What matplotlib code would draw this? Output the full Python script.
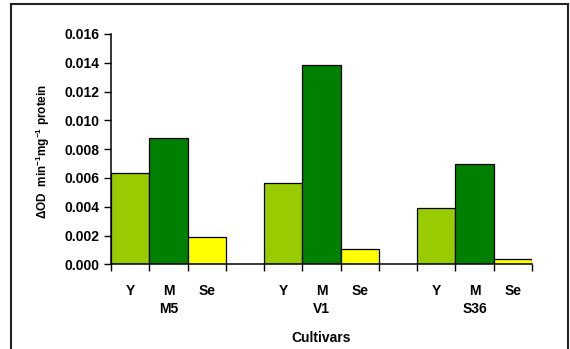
import matplotlib.pyplot as plt
import matplotlib as mpl
from matplotlib.patches import Rectangle
import numpy as np

mpl.rcParams['font.family'] = ['Liberation Sans', 'DejaVu Sans']
mpl.rcParams['font.size'] = 10
mpl.rcParams['font.weight'] = 'bold'
mpl.rcParams['mathtext.fontset'] = 'custom'
mpl.rcParams['mathtext.rm'] = 'Liberation Sans:bold'
mpl.rcParams['mathtext.bf'] = 'Liberation Sans:bold'
mpl.rcParams['mathtext.default'] = 'bf'

cultivars = ['M5', 'V1', 'S36']
parts = ['Y', 'M', 'Se']
colores = ['#99CC00', '#008000', '#FFFF00']

val_Y = [0.00635, 0.00568, 0.00392]
val_M = [0.00879, 0.01386, 0.00698]
val_Se = [0.00192, 0.00109, 0.00039]

fig = plt.figure(figsize=(5.7, 3.49), dpi=100)
ax = fig.add_axes([0.1947, 0.2427, 0.9333 - 0.1947, 0.9026 - 0.2427])

# marco exterior
fig.patches.append(Rectangle((11 / 570, -0.05), 557 / 570, 1.05 - 4 / 349,
                             transform=fig.transFigure, fill=False,
                             edgecolor='#222222', lw=1.5))

datos = [val_Y, val_M, val_Se]
centros = []
for g in range(len(cultivars)):
    for p in range(len(parts)):
        x = g * 4 + p
        centros.append(x)
        ax.bar(x, datos[p][g], width=1.0, color=colores[p],
               edgecolor='black', linewidth=0.9)

ax.set_xlim(-0.5, 10.5)
ax.set_ylim(0, 0.016)
ax.set_yticks(np.arange(0, 0.0161, 0.002))
ax.set_yticklabels(['%.3f' % v for v in np.arange(0, 0.0161, 0.002)])

ax.set_xticks(centros)
ax.set_xticklabels(parts * len(cultivars))
ax.set_xticks(np.arange(-0.5, 10.6, 1), minor=True)
ax.tick_params(axis='x', which='major', length=0, pad=14)
ax.tick_params(axis='x', which='minor', length=5, width=1)
ax.tick_params(axis='y', length=5, width=1, pad=3)

for s in ['top', 'right']:
    ax.spines[s].set_visible(False)
for s in ['left', 'bottom']:
    ax.spines[s].set_linewidth(1.1)

for g, c in enumerate(cultivars):
    ax.text(g * 4 + 1, -0.0031, c, ha='center', va='center', fontweight='bold')

ax.text(5, -0.0051, 'Cultivars', ha='center', va='center', fontweight='bold')

fig.text(43 / 570, 0.5 + (349 / 2 - 151) / 349, r'$\Delta$OD  min$^{-1}$mg$^{-1}$ protein',
         rotation=90, ha='center', va='center', fontweight='bold', fontsize=8.5)

fig.savefig('out.png', dpi=100)
